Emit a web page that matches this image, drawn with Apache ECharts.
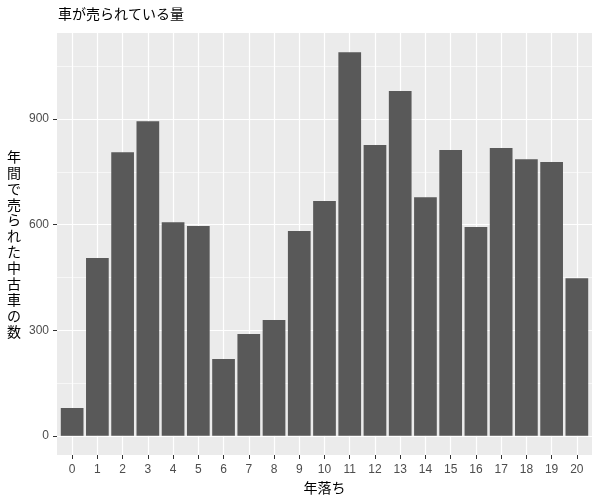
<!DOCTYPE html>
<html>
<head>
<meta charset="utf-8">
<script src="https://cdn.jsdelivr.net/npm/echarts@6/dist/echarts.min.js"></script>
<style>html,body{margin:0;padding:0;background:#fff}#c{width:600px;height:500px}</style>
</head>
<body>
<div id="c"></div>
<script>
const ages = [0,1,2,3,4,5,6,7,8,9,10,11,12,13,14,15,16,17,18,19,20];
const counts = [79,505,806,894,607,596,218,289,329,582,667,1090,826,980,678,812,593,818,786,778,448];
const yMajorTicks = [0,300,600,900];
const yMinorTicks = [150,450,750,1050];
const titleText = '車が売られている量';
const yTitle = '年間で売られた中古車の数';
const xTitle = '年落ち';

const chart = echarts.init(document.getElementById('c'), null, {renderer:'canvas'});
const cjk = '"Noto Sans CJK JP", "Noto Sans", sans-serif';
const num = '"Liberation Sans", Arial, sans-serif';
const yMax = Math.max(...counts);
chart.setOption({
  animation: false,
  title: {
    text: titleText, left: 53, top: 2,
    textStyle: {fontFamily: cjk, fontSize: 14, fontWeight: 'normal', color: '#000'}
  },
  grid: {left: 57, right: 8, top: 33, bottom: 45, outerBoundsMode: 'none', containLabel: false,
         show: true, backgroundColor: '#EBEBEB', borderWidth: 0},
  xAxis: {
    type: 'value', min: -0.6, max: 20.6,
    name: xTitle, nameLocation: 'middle', nameGap: 26,
    nameTextStyle: {fontFamily: cjk, fontSize: 14, color: '#000'},
    axisLine: {show: false, onZero: false},
    axisTick: {show: true, length: 4, lineStyle: {color: '#333', width: 1}, customValues: ages},
    axisLabel: {customValues: ages, color: '#4D4D4D', fontFamily: num, fontSize: 12, margin: 9},
    splitLine: {show: true, lineStyle: {color: '#fff', width: 1.2}}
  },
  yAxis: [{
    type: 'value', min: -0.05*yMax, max: 1.05*yMax,
    name: yTitle.split('').join('\n'), nameLocation: 'middle', nameGap: 43, nameRotate: 0,
    nameTextStyle: {fontFamily: cjk, fontSize: 14, color: '#000', lineHeight: 15.9, align: 'center', verticalAlign: 'middle'},
    axisLine: {show: false, onZero: false},
    axisTick: {show: true, length: 4, lineStyle: {color: '#333', width: 1}, customValues: yMajorTicks},
    axisLabel: {customValues: yMajorTicks, color: '#4D4D4D', fontFamily: num, fontSize: 12, margin: 8},
    splitLine: {show: true, lineStyle: {color: '#fff', width: 1.2}}
  },{
    type: 'value', min: -0.05*yMax, max: 1.05*yMax, position: 'left',
    axisLine: {show: false, onZero: false},
    axisTick: {show: false, customValues: yMinorTicks},
    axisLabel: {show: false, customValues: yMinorTicks},
    splitLine: {show: true, lineStyle: {color: '#fff', width: 0.6}}
  }],
  series: [{
    type: 'bar', yAxisIndex: 0,
    data: ages.map((a,i) => [a, counts[i]]),
    barWidth: '90%',
    itemStyle: {color: '#595959'},
    z: 5
  }]
});
</script>
</body>
</html>
